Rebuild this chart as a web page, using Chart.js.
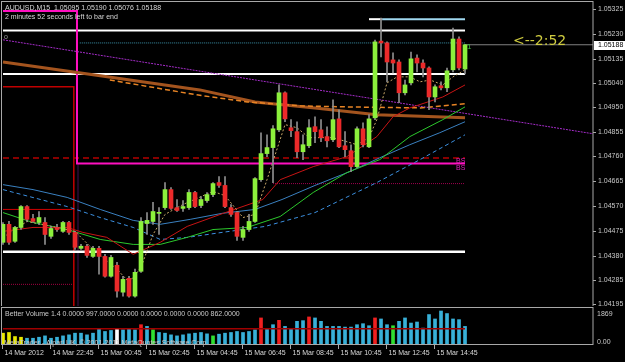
<!DOCTYPE html>
<html><head><meta charset="utf-8">
<script src="https://cdn.jsdelivr.net/npm/chart.js@4.4.1/dist/chart.umd.min.js"></script>
<style>
html,body{margin:0;padding:0;background:#000;overflow:hidden}
#wrap{position:relative;width:625px;height:362px}
canvas{position:absolute;left:0}
#main{top:0}
#vol{top:306px}
</style></head><body>
<div id="wrap"><canvas id="main" width="625" height="306"></canvas><canvas id="vol" width="625" height="56"></canvas></div>
<script>
// AUDUSD M15 candles, 14 Mar 20:45 .. 15 Mar 16:00
const opens=[1.04431,1.04500,1.04435,1.04488,1.04568,1.04522,1.04507,1.04507,1.04454,1.04488,1.04473,1.04507,1.04469,1.04408,1.04416,1.04377,1.04408,1.04377,1.04301,1.04343,
1.04240,1.04293,1.04225,1.04320,1.04503,1.04511,1.04542,1.04564,1.04633,1.04564,1.04561,1.04564,1.04622,1.04572,1.04591,1.04614,1.04660,1.04649,1.04564,1.04545,
1.04450,1.04480,1.04511,1.04671,1.04771,1.04794,1.04862,1.05004,1.04870,1.04855,1.04778,1.04801,1.04874,1.04862,1.04836,1.04824,1.04904,1.04801,1.04782,1.04721,
1.04866,1.04797,1.04908,1.05202,1.05195,1.05130,1.05122,1.05004,1.05042,1.05137,1.05118,1.05099,1.04988,1.05031,1.05023,1.05092,1.05210,1.05095];
const highs=[1.04507,1.04511,1.04492,1.04572,1.04572,1.04538,1.04549,1.04526,1.04492,1.04500,1.04511,1.04511,1.04473,1.04423,1.04423,1.04416,1.04416,1.04385,1.04381,1.04354,
1.04301,1.04301,1.04328,1.04526,1.04545,1.04584,1.04564,1.04660,1.04641,1.04595,1.04591,1.04633,1.04626,1.04606,1.04622,1.04660,1.04683,1.04683,1.04576,1.04549,
1.04492,1.04538,1.04679,1.04851,1.04843,1.04878,1.05034,1.05008,1.04901,1.04893,1.04843,1.04901,1.04912,1.04901,1.04874,1.04977,1.04939,1.04855,1.04805,1.04874,
1.04889,1.04920,1.05206,1.05290,1.05199,1.05157,1.05130,1.05053,1.05160,1.05149,1.05130,1.05103,1.05034,1.05046,1.05099,1.05252,1.05218,1.05190];
const lows=[1.04423,1.04423,1.04431,1.04480,1.04511,1.04507,1.04500,1.04423,1.04446,1.04473,1.04469,1.04461,1.04404,1.04404,1.04373,1.04373,1.04309,1.04297,1.04297,1.04221,
1.04225,1.04221,1.04221,1.04316,1.04461,1.04500,1.04461,1.04557,1.04557,1.04549,1.04549,1.04557,1.04564,1.04564,1.04584,1.04606,1.04641,1.04564,1.04530,1.04438,
1.04438,1.04473,1.04507,1.04664,1.04759,1.04660,1.04855,1.04893,1.04836,1.04755,1.04748,1.04794,1.04813,1.04817,1.04797,1.04817,1.04794,1.04759,1.04702,1.04717,
1.04797,1.04794,1.04901,1.05141,1.05046,1.05080,1.04966,1.04996,1.05034,1.05084,1.05065,1.04939,1.04969,1.05015,1.05008,1.05084,1.05092,1.05076];
const closes=[1.04500,1.04431,1.04488,1.04568,1.04519,1.04511,1.04526,1.04461,1.04484,1.04480,1.04507,1.04469,1.04412,1.04416,1.04381,1.04408,1.04377,1.04301,1.04373,1.04244,
1.04289,1.04225,1.04316,1.04511,1.04515,1.04549,1.04545,1.04633,1.04561,1.04553,1.04568,1.04622,1.04568,1.04595,1.04614,1.04656,1.04649,1.04568,1.04538,1.04454,
1.04480,1.04511,1.04675,1.04771,1.04794,1.04866,1.05004,1.04904,1.04859,1.04778,1.04805,1.04870,1.04855,1.04832,1.04820,1.04901,1.04797,1.04786,1.04721,1.04866,
1.04805,1.04904,1.05199,1.05195,1.05122,1.05118,1.05004,1.05034,1.05134,1.05118,1.05099,1.04988,1.05027,1.05023,1.05088,1.05210,1.05099,1.05188];
const volumes=[613,652,422,383,326,326,383,460,326,383,460,518,613,613,518,613,843,709,767,843,
805,843,805,1093,997,805,652,613,518,460,518,575,613,652,575,460,556,613,652,709,
652,709,805,1476,843,1093,1342,997,843,1284,1323,1533,1476,1284,997,997,997,958,958,1093,
1150,1035,1476,1418,1093,1035,1284,1476,1188,1246,901,1668,1418,1869,1725,1418,1380,997];
const volAverage=862;
const volYellow=[0,1,2,3], volWhite=[19], volRed=[23,43,46,51,62], volGreen=[25,35,65];
const priceTicks=[1.05325,1.05230,1.05135,1.05040,1.04950,1.04855,1.04760,1.04665,1.04570,1.04475,1.04380,1.04285,1.04195];
const timeTicks=[0,8,16,24,32,40,48,56,64,72];
const timeLabels=["14 Mar 2012","14 Mar 22:45","15 Mar 00:45","15 Mar 02:45","15 Mar 04:45","15 Mar 06:45","15 Mar 08:45","15 Mar 10:45","15 Mar 12:45","15 Mar 14:45"];
// indicator lines as [bar index, price]
const maBrown=[[0,1.05122],[16.2,1.05069],[32.8,1.05015],[42,1.04969],[52,1.04946],[62.3,1.04920],[77,1.04908]];
const maOrange=[[17.8,1.05053],[32.3,1.04996],[40.7,1.04969],[49.5,1.04954],[57,1.04950],[69.5,1.04946],[77,1.04962]];
const maRed=[[0,1.04473],[5,1.04488],[10.7,1.04488],[13.3,1.04469],[17.3,1.04450],[21.7,1.04385],[26.2,1.04431],[30.7,1.04492],[36.7,1.04542],[43.3,1.04595],[46.2,1.04671],[51.7,1.04721],[57.3,1.04759],[62.3,1.04836],[65,1.04912],[67.8,1.04946],[73.3,1.04988],[77,1.05034]];
const maGreen=[[0,1.04545],[5,1.04507],[10.7,1.04480],[16.2,1.04442],[21.7,1.04423],[26.2,1.04423],[30.7,1.04450],[35,1.04480],[40.7,1.04488],[46.2,1.04530],[51.7,1.04622],[57.3,1.04698],[62.8,1.04748],[67.8,1.04836],[73.3,1.04901],[77,1.04950]];
const maBlue=[[0,1.04652],[5,1.04633],[10.7,1.04603],[16.2,1.04557],[21.7,1.04515],[26.2,1.04500],[31.2,1.04519],[36.5,1.04542],[42,1.04557],[46.5,1.04595],[52,1.04649],[57.8,1.04702],[62.8,1.04755],[67.8,1.04805],[72.8,1.04851],[77,1.04893]];
const maBlueDash=[[0,1.04633],[10.7,1.04568],[16.2,1.04526],[21.7,1.04488],[26.2,1.04442],[30.8,1.04450],[36.5,1.04469],[43.7,1.04492],[52,1.04545],[62.3,1.04660],[69.5,1.04748],[77,1.04843]];
const maTan=[[0,1.04450],[4,1.04511],[9,1.04488],[12,1.04473],[15,1.04404],[19,1.04328],[21,1.04278],[23,1.04335],[25,1.04461],[27,1.04538],[30,1.04576],[35,1.04626],[37,1.04610],[40,1.04526],[42,1.04538],[44,1.04671],[47,1.04882],[49,1.04870],[51,1.04832],[55,1.04832],[59,1.04805],[61,1.04832],[62.3,1.04901],[64,1.05042],[65.7,1.05065],[67.8,1.05065],[69.5,1.05046],[71.2,1.05053],[73.3,1.05034],[75,1.05065],[77,1.05092]];
const trendLine=[[0,1.05207],[98.33,1.04847]];
const whiteLevels=[1.05243,1.05076,1.04395];
const topLevel=1.05286, bidPrice=1.05188, dotLevel=1.05195, redDashLevel=1.04754, magentaLevel=1.04733, redDotLevel=1.04656;
const magentaPath=[[0,1.05317],[12.33,1.05317],[12.33,1.04733],[77,1.04733]];
const redStep=[[0,1.05027],[11.8,1.05027],[11.8,1.04187]];
const redShort=[[0,1.04557],[11.6,1.04557]];
const redLeftDot=[[0,1.04270],[12,1.04270]];

const X_MIN=-1/6, X_MAX=98.33, Y_MIN=1.04187, Y_MAX=1.05348, V_MAX=2039;
const F="'Liberation Sans', Arial, sans-serif";
const BULL="#8cf03c", BEAR="#ec2a2a", WICK="#8e8e8e";

function pts(a){ return a.map(p=>({x:p[0],y:p[1]})); }
function line(a,color,w,dash,order){ return {type:"line",data:pts(a),borderColor:color,borderWidth:w,borderDash:dash||[],pointRadius:0,tension:0,order:order==null?5:order}; }
function hline(v,a,b,color,w,dash,order){ return line([[a,v],[b,v]],color,w,dash,order==null?8:order); }
function txt(ctx,s,x,y,color,size,align,font){ ctx.save(); ctx.font=size+"px "+(font||F); ctx.fillStyle=color; ctx.textAlign=align||"left"; ctx.textBaseline="middle"; ctx.fillText(s,x,y); ctx.restore(); }
function base(extra){ return Object.assign({responsive:false,animation:false,events:[],plugins:{legend:{display:false},tooltip:{enabled:false}}},extra); }
function xAxis(){ return {type:"linear",min:X_MIN,max:X_MAX,offset:false,display:false}; }

const idx=opens.map((_,i)=>i);
const mainPlugin={id:"mt4main",afterDraw(c){
  const ctx=c.ctx, ca=c.chartArea, ys=c.scales.y;
  ctx.save(); ctx.strokeStyle="#a8a8a8"; ctx.lineWidth=1;
  ctx.strokeRect(1.5,1.5,ca.right-1.5,ca.bottom-1);
  priceTicks.forEach(v=>{ const y=Math.round(ys.getPixelForValue(v))+0.5;
    ctx.beginPath(); ctx.moveTo(ca.right,y); ctx.lineTo(ca.right+3,y); ctx.stroke();
    txt(ctx,v.toFixed(5),ca.right+5,y,"#c8c8c8",7); });
  const by=Math.round(ys.getPixelForValue(bidPrice));
  ctx.fillStyle="#ffffff"; ctx.fillRect(ca.right+1,by-4,31,9);
  txt(ctx,bidPrice.toFixed(5),ca.right+5,by+0.5,"#000000",7);
  ctx.restore();
  txt(ctx,"AUDUSD,M15  1.05095 1.05190 1.05076 1.05188",5,8,"#d8d8d8",7);
  txt(ctx,"2 minutes 52 seconds left to bar end",5,17,"#d8d8d8",7);
  txt(ctx,"o",4,37,"#a0a0a0",7);
  txt(ctx,"<--2:52",513,41,"#cfcc40",14,"left","'DejaVu Sans', sans-serif");
  txt(ctx,"1",467,47,"#40c040",8);
  txt(ctx,"BS",456,161,"#e020c0",7); txt(ctx,"BS",456,168,"#e020c0",7);
}};

new Chart(document.getElementById("main"),{type:"bar",
  data:{datasets:[
    {type:"bar",data:idx.map(i=>({x:i,y:[opens[i],closes[i]]})),backgroundColor:idx.map(i=>closes[i]>=opens[i]?BULL:BEAR),barThickness:4,grouped:false,minBarLength:1,borderWidth:0,order:0},
    {type:"bar",data:idx.map(i=>({x:i,y:[lows[i],highs[i]]})),backgroundColor:WICK,barThickness:1,grouped:false,borderWidth:0,order:1},
    line(maTan,"#c8a868",1,[2,2],2),
    line(maRed,"#c81414",1,[],3),
    line(maGreen,"#2cc82c",1,[],3),
    line(maBlue,"#3a80c0",1,[],4),
    line(maBlueDash,"#3c90e0",1,[4,3],4),
    line(maBrown,"#a4541e",3,[],6),
    line(maOrange,"#e88424",1.5,[5,3],5),
    line(trendLine,"#a42cc8",1,[2,1],7),
    hline(whiteLevels[0],0,77,"#ffffff",2), hline(whiteLevels[1],0,77,"#ffffff",2), hline(whiteLevels[2],0,77,"#ffffff",2.5),
    hline(topLevel,61,63.2,"#ffffff",2), hline(topLevel,63.2,77,"#a0d8f0",2),
    hline(dotLevel,12.8,77,"#3a90a8",1,[1,1]),
    hline(bidPrice,77,X_MAX,"#808080",1),
    hline(redDashLevel,0,77,"#b40000",1.5,[6,4]),
    hline(redDotLevel,45,77,"#a00050",1,[1,1]),
    line(redStep,"#c00000",1.5,[],8),
    line(redShort,"#d00000",1,[],8),
    line(redLeftDot,"#a00040",1,[1,1],8),
    line([[12.5,1.04733],[12.5,Y_MIN]],"#8020a0",1,[1,1],8),
    line(magentaPath,"#ff10c0",2,[],7)
  ]},
  options:base({layout:{padding:{left:2,right:32,top:3,bottom:0}},
    scales:{x:xAxis(),y:{min:Y_MIN,max:Y_MAX,display:false}}}),
  plugins:[mainPlugin]});

function volColor(i){ return volYellow.includes(i)?"#e8e800":volWhite.includes(i)?"#ffffff":volRed.includes(i)?"#f02020":volGreen.includes(i)?"#30e030":"#38b0d8"; }
const volPlugin={id:"mt4vol",
  afterDatasetsDraw(c){ txt(c.ctx,"MetaTrader - Alpari UK, \u00a9 2001-2011 MetaQuotes Software Corp.",4,37,"#c8c8c8",7); },
  afterDraw(c){
    const ctx=c.ctx, ca=c.chartArea, xs=c.scales.x;
    ctx.save(); ctx.strokeStyle="#a8a8a8"; ctx.lineWidth=1;
    ctx.strokeRect(1.5,ca.top-0.5,ca.right-1.5,ca.bottom-ca.top+1);
    timeTicks.forEach((t,k)=>{ const x=Math.round(xs.getPixelForValue(t))-0.5;
      ctx.beginPath(); ctx.moveTo(x,ca.bottom+1); ctx.lineTo(x,ca.bottom+5); ctx.stroke();
      txt(ctx,timeLabels[k],x+2,47,"#d8d8d8",7); });
    ctx.restore();
    txt(ctx,"Better Volume 1.4 0.0000 997.0000 0.0000 0.0000 0.0000 0.0000 862.0000",5,8,"#c8c8c8",7);
    txt(ctx,"1869",597,8,"#c8c8c8",7);
    txt(ctx,"0.00",597,36,"#c8c8c8",7);
  }};

new Chart(document.getElementById("vol"),{type:"bar",
  data:{datasets:[
    {type:"line",data:[{x:0,y:volAverage},{x:77,y:volAverage}],borderColor:"#a00000",borderWidth:1.5,pointRadius:0,order:0},
    {type:"bar",data:idx.map(i=>({x:i,y:volumes[i]})),backgroundColor:idx.map(volColor),barThickness:3,grouped:false,borderWidth:0,order:1}
  ]},
  options:base({layout:{padding:{left:2,right:32,top:2,bottom:18}},
    scales:{x:xAxis(),y:{min:0,max:V_MAX,display:false}}}),
  plugins:[volPlugin]});
</script></body></html>
